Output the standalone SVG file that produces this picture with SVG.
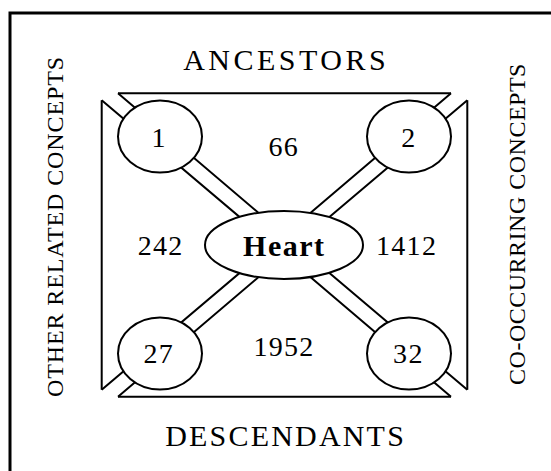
<svg xmlns="http://www.w3.org/2000/svg" width="551" height="471" viewBox="0 0 551 471">
<style>
.ln{stroke:#000;stroke-width:2;fill:none;stroke-linecap:butt}
.nd{stroke:#000;stroke-width:2;fill:#fff}
.t{font-family:"Liberation Serif","Times New Roman",serif;fill:#000;text-anchor:middle}
.num{font-size:28px;letter-spacing:1.3px}
.lab{font-size:30px}
.side{font-size:24px}
</style>
<rect x="10" y="13" width="600" height="500" fill="#fff" stroke="#000" stroke-width="3"/>
<g id="connectors">
<path class="ln" d="M118,93.3 H451 M101.7,100.3 V389.7 M467.3,100.3 V389.7 M118,396.7 H451"/>
<path class="ln" d="M118,93.3 L284.5,235 M101.7,100.3 L284.5,255"/>
<path class="ln" d="M451,93.3 L284.5,235 M467.3,100.3 L284.5,255"/>
<path class="ln" d="M118,396.7 L284.5,255 M101.7,389.7 L284.5,235"/>
<path class="ln" d="M451,396.7 L284.5,255 M467.3,389.7 L284.5,235"/>
</g>
<g id="node-1"><ellipse class="nd" cx="160" cy="136.5" rx="42" ry="36"/><text class="t num" x="159.2" y="147.3">1</text></g>
<g id="node-2"><ellipse class="nd" cx="409" cy="136.5" rx="42" ry="36"/><text class="t num" x="409" y="146.7">2</text></g>
<g id="node-27"><ellipse class="nd" cx="160" cy="353.5" rx="42" ry="36"/><text class="t num" x="158.7" y="363.3">27</text></g>
<g id="node-32"><ellipse class="nd" cx="409" cy="353.5" rx="42" ry="36"/><text class="t num" x="408.4" y="363.3">32</text></g>
<g id="node-heart"><ellipse class="nd" cx="284" cy="245" rx="79" ry="34"/><text class="t" x="284.3" y="255.7" style="font-size:30px;font-weight:bold;letter-spacing:1.5px">Heart</text></g>
<g id="labels">
<text class="t num" x="283.7" y="156">66</text>
<text class="t num" x="160.6" y="255">242</text>
<text class="t num" x="406.6" y="255">1412</text>
<text class="t num" x="284" y="356">1952</text>
<text class="t lab" x="286.2" y="70" style="letter-spacing:3.5px">ANCESTORS</text>
<text class="t lab" x="285.6" y="445.7" style="letter-spacing:2.2px">DESCENDANTS</text>
<text class="t side" transform="translate(63.3,226.5) rotate(-90)" style="letter-spacing:0.9px">OTHER RELATED CONCEPTS</text>
<text class="t side" transform="translate(525,224) rotate(-90)" style="letter-spacing:0.5px">CO-OCCURRING CONCEPTS</text>
</g>
</svg>
